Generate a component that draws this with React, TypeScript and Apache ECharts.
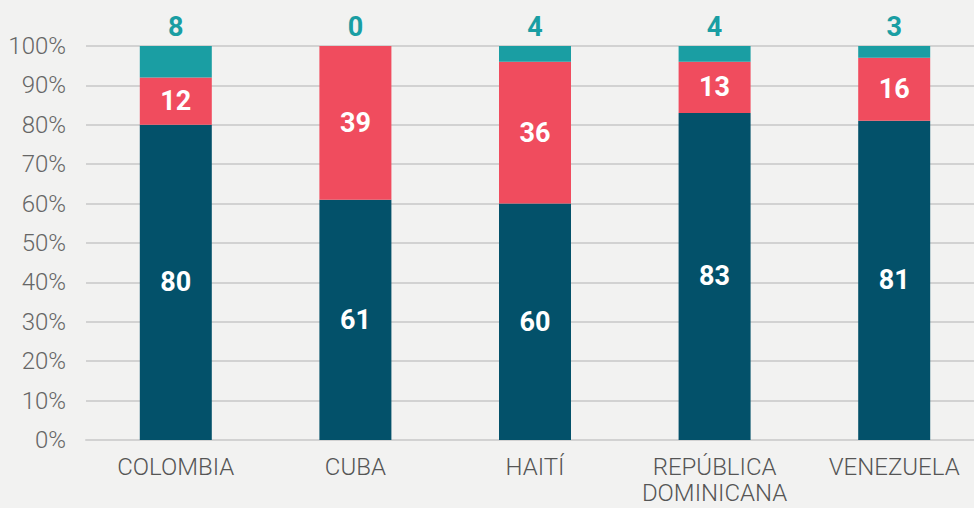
import React, { useEffect, useRef } from "react";
import * as echarts from "echarts";

const categories = ["COLOMBIA", "CUBA", "HAITÍ", "REPÚBLICA\nDOMINICANA", "VENEZUELA"];
const seriesBottom = [80, 61, 60, 83, 81];
const seriesMiddle = [12, 39, 36, 13, 16];
const seriesTop = [8, 0, 4, 4, 3];

const FONT = "Roboto";

export default function App() {
  const ref = useRef<HTMLDivElement>(null);
  useEffect(() => {
    document.body.style.margin = "0";
    const chart = echarts.init(ref.current!, null, { renderer: "svg" });
    chart.setOption({
      animation: false,
      backgroundColor: "#f2f2f1",
      grid: { left: 86, right: -10, top: 46, bottom: 68, outerBoundsMode: "none", containLabel: false },
      xAxis: {
        type: "category",
        data: categories,
        axisLine: { lineStyle: { color: "#d2d2d2", width: 2 } },
        axisTick: { show: false },
        axisLabel: {
          color: "#555",
          fontFamily: FONT,
          fontWeight: 300,
          fontSize: 24,
          lineHeight: 26,
          margin: 14,
          interval: 0,
        },
      },
      yAxis: {
        type: "value",
        min: 0,
        max: 100,
        interval: 10,
        axisLine: { show: false },
        axisTick: { show: false },
        splitLine: { lineStyle: { color: "#d2d2d2", width: 2 } },
        axisLabel: {
          formatter: "{value}%",
          color: "#666",
          fontFamily: FONT,
          fontWeight: 300,
          fontSize: 24,
          margin: 20,
        },
      },
      series: [
        {
          type: "bar",
          stack: "a",
          data: seriesBottom,
          barWidth: 72,
          itemStyle: { color: "#03516a" },
          label: { show: true, position: "inside", color: "#fff", fontFamily: FONT, fontWeight: "bold", fontSize: 27 },
        },
        {
          type: "bar",
          stack: "a",
          data: seriesMiddle,
          barWidth: 72,
          itemStyle: { color: "#f04c5e" },
          label: { show: true, position: "inside", color: "#fff", fontFamily: FONT, fontWeight: "bold", fontSize: 27 },
        },
        {
          type: "bar",
          stack: "a",
          data: seriesTop,
          barWidth: 72,
          itemStyle: { color: "#1a9ea3" },
          label: { show: true, position: "top", distance: 6, color: "#1a9ea3", fontFamily: FONT, fontWeight: "bold", fontSize: 27 },
        },
      ],
    });
    return () => chart.dispose();
  }, []);
  return <div ref={ref} style={{ position: "absolute", left: 0, top: 0, width: 974, height: 508 }} />;
}
